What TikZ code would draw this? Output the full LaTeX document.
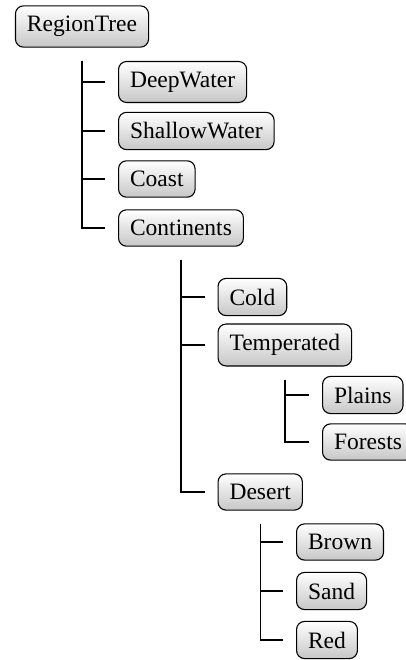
\documentclass[tikz,border=0pt]{standalone}
\usepackage{fontspec}
\setmainfont{Liberation Serif}
\begin{document}
\begin{tikzpicture}[x=1pt,y=-1pt,
  box/.style={draw=black, line width=1.1pt, rounded corners=8pt,
    top color=white, bottom color=black!22,
    inner xsep=11.5pt, inner ysep=10.3pt,
    font=\fontsize{23.5}{28}\selectfont, anchor=west},
  link/.style={line width=1.4pt}]
\useasboundingbox (0,0) rectangle (405,660);
% nodes
\node[box,anchor=center] (root) at (82,26.5) {RegionTree};
\node[box] (dw) at (118,82) {DeepWater};
\node[box] (sw) at (118,131) {ShallowWater};
\node[box] (co) at (118,179) {Coast};
\node[box] (ct) at (118,228) {Continents};
\node[box] (cold) at (217.5,297) {Cold};
\node[box] (tm) at (217.5,345) {Temperated};
\node[box] (pl) at (322,395) {Plains};
\node[box] (fo) at (322,442) {Forests};
\node[box] (de) at (217.5,492) {Desert};
\node[box] (br) at (296,542) {Brown};
\node[box] (sa) at (296,591) {Sand};
\node[box] (re) at (296,640) {Red};
% connectors
\foreach \p/\c in {root/dw,root/sw,root/co,root/ct,
                   ct/cold,ct/tm,ct/de,
                   tm/pl,tm/fo,
                   de/br,de/sa,de/re}{
  \draw[link] ([yshift=-13pt]\p.south) |- ([xshift=-13pt]\c.west);
}
\end{tikzpicture}
\end{document}
